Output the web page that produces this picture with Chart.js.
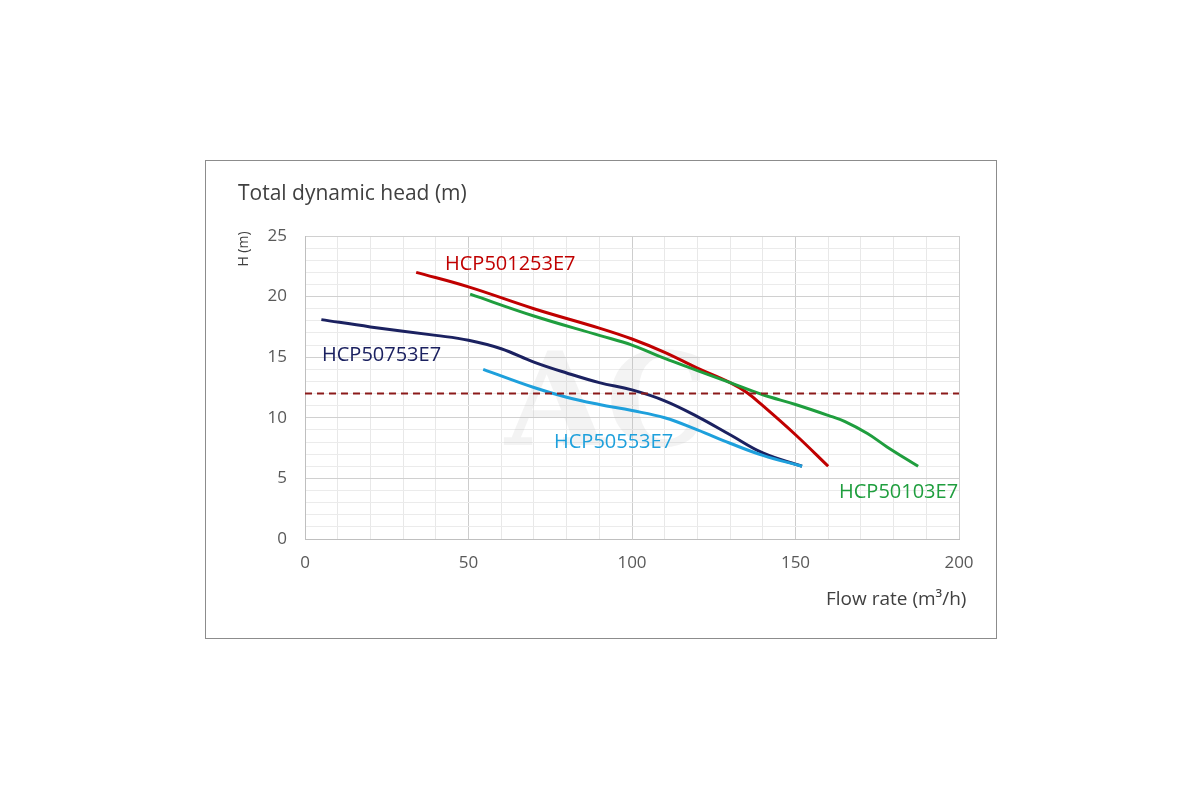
<!DOCTYPE html>
<html>
<head>
<meta charset="utf-8">
<script src="https://cdn.jsdelivr.net/npm/chart.js@4"></script>
<style>
  html, body { margin: 0; padding: 0; background: #fff; }
  #wrap { width: 1200px; height: 800px; position: relative; }
</style>
</head>
<body>
<div id="wrap"><canvas id="pumpChart" width="1200" height="800"></canvas></div>
<script>
// pump curves, flow rate (m3/h) vs head (m)
const flow1253 = [34, 50, 70, 90, 100, 110, 120, 130, 135, 140, 150, 160];
const head1253 = [22, 20.8, 19.0, 17.4, 16.5, 15.4, 14.1, 12.9, 12.1, 11.0, 8.6, 6];

const flow103 = [50.5, 70, 90, 100, 110, 120, 130, 140, 150, 160, 165, 172, 178, 187.5];
const head103 = [20.2, 18.4, 16.8, 16.0, 14.9, 13.9, 12.9, 11.9, 11.1, 10.2, 9.7, 8.7, 7.6, 6];

const flow753 = [5, 20, 40, 50, 60, 70, 80, 90, 100, 110, 120, 130, 140, 152];
const head753 = [18.1, 17.5, 16.8, 16.4, 15.7, 14.6, 13.7, 12.9, 12.3, 11.4, 10.1, 8.6, 7.1, 6];

const flow553 = [54.5, 70, 80, 90, 100, 110, 120, 130, 140, 152];
const head553 = [14.0, 12.5, 11.7, 11.1, 10.6, 10.0, 9.0, 7.9, 6.9, 6];

const dutyFlow = [0, 200];
const dutyHead = [12, 12];

const xTicks = [0, 50, 100, 150, 200];
const yTicks = [0, 5, 10, 15, 20, 25];

const toPts = (xs, ys) => xs.map((x, i) => ({ x: x, y: ys[i] }));

const FONT = "'Open Sans', 'DejaVu Sans', sans-serif";

// frame, titles, curve labels and the faint watermark
const decor = {
  id: 'decor',
  beforeDatasetsDraw(chart) {
    const ctx = chart.ctx;
    ctx.save();
    ctx.font = "bold 130px 'DejaVu Serif', serif";
    ctx.fillStyle = 'rgba(190,190,190,0.18)';
    ctx.textBaseline = 'alphabetic';
    ctx.fillText('AC', 505, 445);
    ctx.restore();
  },
  afterDraw(chart) {
    const ctx = chart.ctx;
    ctx.save();
    ctx.strokeStyle = '#8c8c8c';
    ctx.lineWidth = 1;
    ctx.strokeRect(205.5, 160.5, 791, 478);

    ctx.fillStyle = '#404040';
    ctx.textBaseline = 'middle';
    ctx.textAlign = 'left';
    ctx.font = '21px ' + FONT;
    ctx.fillText('Total dynamic head (m)', 238, 194);
    ctx.font = '19px ' + FONT;
    ctx.fillText('Flow rate (m\u00b3/h)', 826, 600);

    ctx.save();
    ctx.translate(244, 249);
    ctx.rotate(-Math.PI / 2);
    ctx.textAlign = 'center';
    ctx.font = '14px ' + FONT;
    ctx.fillText('H (m)', 0, 0);
    ctx.restore();

    ctx.font = '20px ' + FONT;
    ctx.textAlign = 'left';
    ctx.fillStyle = '#c00000';
    ctx.fillText('HCP501253E7', 445, 264);
    ctx.fillStyle = '#1b2160';
    ctx.fillText('HCP50753E7', 322, 355);
    ctx.fillStyle = '#1ea0dc';
    ctx.fillText('HCP50553E7', 554, 442);
    ctx.fillStyle = '#1f9e3e';
    ctx.fillText('HCP50103E7', 839, 492);
    ctx.restore();
  }
};

const lineSet = (label, data, color) => ({
  label: label,
  data: data,
  borderColor: color,
  backgroundColor: color,
  borderWidth: 3,
  pointRadius: 0,
  tension: 0.4,
  fill: false
});

new Chart(document.getElementById('pumpChart'), {
  type: 'line',
  data: {
    datasets: [
      {
        label: 'duty',
        data: toPts(dutyFlow, dutyHead),
        borderColor: '#8b1a1a',
        borderWidth: 2,
        borderDash: [7, 5],
        pointRadius: 0,
        fill: false
      },
      lineSet('HCP50553E7', toPts(flow553, head553), '#1ea0dc'),
      lineSet('HCP50753E7', toPts(flow753, head753), '#1b2160'),
      lineSet('HCP50103E7', toPts(flow103, head103), '#1f9e3e'),
      lineSet('HCP501253E7', toPts(flow1253, head1253), '#c00000')
    ]
  },
  options: {
    responsive: false,
    animation: false,
    layout: { padding: { left: 245, right: 241, top: 236, bottom: 221 } },
    plugins: {
      legend: { display: false },
      tooltip: { enabled: false }
    },
    scales: {
      x: {
        type: 'linear',
        min: 0,
        max: 200,
        afterFit(scale) { scale.height = 40; },
        ticks: {
          stepSize: 10,
          padding: 14,
          color: '#595959',
          font: { family: FONT, size: 17 },
          autoSkip: false,
          maxRotation: 0,
          callback: v => xTicks.includes(v) ? v : ''
        },
        grid: {
          drawTicks: false,
          color: c => (c.tick && c.tick.value % 50 === 0) ? '#cdcdcd' : '#e8e8e8',
          lineWidth: 1
        },
        border: { color: '#bfbfbf', width: 1 }
      },
      y: {
        min: 0,
        max: 25,
        afterFit(scale) { scale.width = 60; },
        ticks: {
          stepSize: 1,
          padding: 18,
          color: '#595959',
          font: { family: FONT, size: 17 },
          autoSkip: false,
          callback: v => yTicks.includes(v) ? v : ''
        },
        grid: {
          drawTicks: false,
          color: c => (c.tick && c.tick.value % 5 === 0) ? '#d0d0d0' : '#ebebeb',
          lineWidth: 1
        },
        border: { color: '#bfbfbf', width: 1 }
      }
    }
  },
  plugins: [decor]
});
</script>
</body>
</html>
